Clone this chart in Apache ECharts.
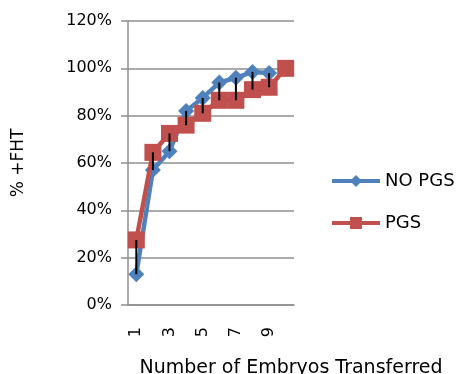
<!DOCTYPE html>
<html>
<head>
<meta charset="utf-8">
<script src="https://cdn.jsdelivr.net/npm/echarts@6/dist/echarts.min.js"></script>
<style>
html,body{margin:0;padding:0;background:#fff;}
#chart{width:458px;height:374px;}
</style>
</head>
<body>
<div id="chart"></div>
<script>
const categories = ['1','2','3','4','5','6','7','8','9','10'];
const noPgs = [13, 57, 65, 82, 87.5, 94, 96, 98.5, 98];
const pgs = [27.5, 64.5, 72.5, 76, 81, 86.5, 86.5, 91, 92, 100];
const yTicks = {min: 0, max: 120, interval: 20};

const hiLo = noPgs.map((v, i) => [i, v, pgs[i]]);
const FONT = 'DejaVu Sans';

const chart = echarts.init(document.getElementById('chart'));
chart.setOption({
  animation: false,
  grid: {left: 128, right: 164, top: 21, bottom: 69, containLabel: false, outerBoundsMode: 'none'},
  legend: {
    data: ['NO PGS', 'PGS'],
    orient: 'vertical',
    left: 330,
    top: 172,
    padding: 0,
    itemWidth: 48,
    itemHeight: 15,
    itemGap: 24,
    lineStyle: {width: 4},
    textStyle: {fontFamily: FONT, fontSize: 18, color: '#000'}
  },
  xAxis: {
    type: 'category',
    data: categories,
    boundaryGap: true,
    name: 'Number of Embryos Transferred',
    nameLocation: 'middle',
    nameGap: 54,
    nameTextStyle: {fontFamily: FONT, fontSize: 19, color: '#000', padding: [0, 0, 0, 160]},
    axisLine: {lineStyle: {color: '#8f8f8f', width: 1.5}},
    axisTick: {show: false},
    axisLabel: {interval: 1, rotate: 90, margin: 22, fontFamily: FONT, fontSize: 16, color: '#000'}
  },
  yAxis: {
    type: 'value',
    min: yTicks.min,
    max: yTicks.max,
    interval: yTicks.interval,
    name: '% +FHT',
    nameLocation: 'middle',
    nameGap: 101,
    nameTextStyle: {fontFamily: FONT, fontSize: 17, color: '#000'},
    axisLine: {show: true, lineStyle: {color: '#8f8f8f', width: 1.5}},
    axisTick: {show: true, length: 7, lineStyle: {color: '#8f8f8f', width: 1.5}},
    splitLine: {lineStyle: {color: '#8f8f8f', width: 1.5}},
    axisLabel: {formatter: '{value}%', margin: 16, fontFamily: FONT, fontSize: 16, color: '#000'}
  },
  series: [
    {
      name: 'NO PGS',
      type: 'line',
      data: noPgs,
      symbol: 'diamond',
      symbolSize: 16,
      showAllSymbol: true,
      lineStyle: {color: '#4F81BD', width: 4.5},
      itemStyle: {color: '#4F81BD'},
      z: 2
    },
    {
      name: 'PGS',
      type: 'line',
      data: pgs,
      symbol: 'rect',
      symbolSize: 17,
      showAllSymbol: true,
      lineStyle: {color: '#C0504D', width: 4.5},
      itemStyle: {color: '#C0504D'},
      z: 3
    },
    {
      name: 'hilo',
      type: 'custom',
      data: hiLo,
      encode: {x: 0, y: [1, 2]},
      z: 4,
      renderItem: function (params, api) {
        const p1 = api.coord([api.value(0), api.value(1)]);
        const p2 = api.coord([api.value(0), api.value(2)]);
        return {type: 'line', shape: {x1: p1[0], y1: p1[1], x2: p2[0], y2: p2[1]}, style: {stroke: '#000', lineWidth: 2}};
      }
    }
  ]
});
</script>
</body>
</html>
